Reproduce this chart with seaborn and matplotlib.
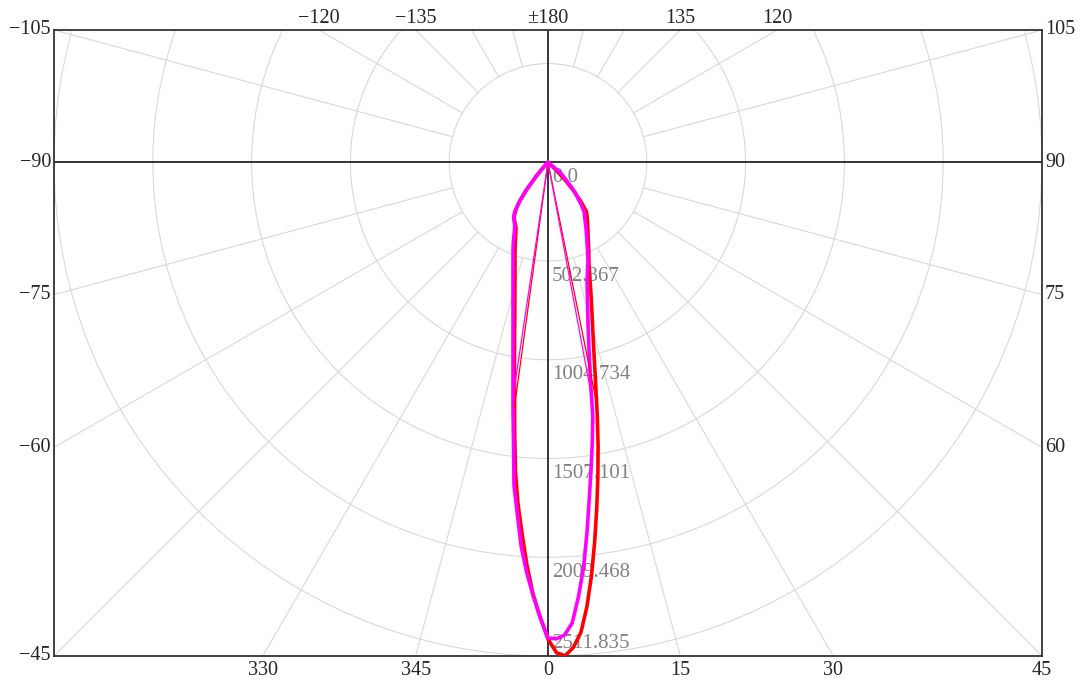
import numpy as np
import pandas as pd
import matplotlib.pyplot as plt
import seaborn as sns

# gamma angle (deg, 0 = straight down, + to the right) and intensity (cd)
gamma = [-52, -50, -48, -46, -44, -42, -40, -38, -36, -34, -32, -30, -28, -26,
         -24, -22, -20, -18, -16, -14,
         -12, -11, -10, -9, -8, -7, -6, -5, -4, -3, -2, -1, 0, 1, 2, 3, 4, 5, 6,
         7, 8, 9, 10, 11, 12,
         14, 16, 18, 20, 22, 24, 26, 28, 30, 32, 34, 36, 38, 40, 42, 44, 46, 48,
         50, 52]
red_cd = [0, 0, 0, 0, 0, 40, 100, 181, 248, 292, 325, 341, 355, 371,
          404, 444, 491, 543, 609, 696,
          812, 890, 981, 1089, 1222, 1389, 1584, 1747, 1893, 2051, 2196, 2313, 2426,
          2496, 2511.835, 2471, 2398, 2270, 2115, 1947, 1780, 1621, 1467, 1313, 1170,
          956, 814, 708, 622, 556, 510, 470, 435, 407, 381, 359, 338, 316, 258,
          191, 127, 60, 0, 0, 0]
magenta_cd = [0, 0, 0, 0, 0, 40, 95, 170, 249, 302, 330, 344, 361, 389,
              431, 475, 520, 576, 646, 736,
              856, 933, 1025, 1138, 1279, 1439, 1654, 1795, 1958, 2087, 2202, 2315, 2420,
              2425, 2407, 2348, 2217, 2071, 1896, 1723, 1574, 1440, 1312, 1130, 1010,
              840, 728, 643, 587, 543, 494, 452, 417, 386, 357, 333, 313, 275, 235,
              205, 163, 124, 100, 80, 0]

planes = ["C0-C180", "C90-C270"]
colors = {"C0-C180": "#ff0000", "C90-C270": "#ff00ff"}

# angle labels around the frame
angle_ticks = [-30, -15, 0, 15, 30, 45, 60, 75, 90, 105, 120, 135, 180, -135, -120,
               -105, -90, -75, -60, -45]
angle_texts = ["330", "345", "0", "15", "30", "45", "60", "75", "90", "105", "120",
               "135", "±180", "−135", "−120", "−105", "−90", "−75", "−60", "−45"]
angle_sides = ["bottom"] * 6 + ["right"] * 4 + ["top"] * 5 + ["left"] * 5

sns.set_style("white")
plt.rcParams["font.family"] = ["Liberation Serif", "DejaVu Serif"]

rows = []
for name, vals in zip(planes, [red_cd, magenta_cd]):
    for g, v in zip(gamma, vals):
        t = np.radians(g)
        rows.append({"plane": name, "x": v * np.sin(t), "y": -v * np.cos(t)})
df = pd.DataFrame(rows)

rmax = max(max(red_cd), max(magenta_cd))
step = rmax / 5
R = rmax
Rt = R * np.tan(np.radians(15))
upx = R / 494  # data units per pixel

fig = plt.figure(figsize=(10.83, 6.84), dpi=100)
ax = fig.add_axes([54 / 1083, 28 / 684, 988 / 1083, 626 / 684])
ax.set_xlim(-R, R)
ax.set_ylim(-R, Rt)

# polar grid
grid_c = "#d9d9d9"
for k in range(1, 6):
    ax.add_patch(plt.Circle((0, 0), k * step, fill=False, ec=grid_c, lw=0.8, zorder=1))
for a in range(-165, 181, 15):
    if a % 90 == 0:
        continue
    t = np.radians(a)
    ax.plot([step * np.sin(t), 3 * R * np.sin(t)], [-step * np.cos(t), -3 * R * np.cos(t)],
            color=grid_c, lw=0.8, zorder=1)
ax.axhline(0, color="black", lw=1.1, zorder=2)
ax.axvline(0, color="black", lw=1.1, zorder=2)

# intensity labels
for k in range(6):
    txt = "0.0" if k == 0 else f"{k * step:.3f}"
    yy = -min(k * step + 15 * upx, R - 13 * upx)
    ax.text(4 * upx, yy, txt, color="#808080", fontsize=15, ha="left", va="center", zorder=2.5)

# curves
sns.lineplot(data=df, x="x", y="y", hue="plane", hue_order=planes, palette=colors,
             sort=False, estimator=None, lw=2.6, legend=False, ax=ax, zorder=3)

# beam angle lines (half of the peak intensity)
for name, vals in zip(planes, [red_cd, magenta_cd]):
    v = np.array(vals, dtype=float)
    g = np.array(gamma, dtype=float)
    ip = int(np.argmax(v))
    half = v[ip] / 2
    j = ip
    while v[j] >= half:
        j -= 1
    gl = g[j] + (half - v[j]) / (v[j + 1] - v[j]) * (g[j + 1] - g[j])
    j = ip
    while v[j] >= half:
        j += 1
    gr = g[j - 1] + (half - v[j - 1]) / (v[j] - v[j - 1]) * (g[j] - g[j - 1])
    for ga in [gl, gr]:
        t = np.radians(ga)
        ax.plot([0, half * np.sin(t)], [0, -half * np.cos(t)], color=colors[name], lw=0.9, zorder=3)

# angle labels on the frame
for a, txt, side in zip(angle_ticks, angle_texts, angle_sides):
    t = np.radians(a)
    s, c = np.sin(t), -np.cos(t)
    if side == "bottom":
        ax.text(-R * s / c, -R - 15 * upx, txt, ha="center", va="center", fontsize=14.5, clip_on=False)
    elif side == "top":
        ax.text(Rt * s / c, Rt + 12 * upx, txt, ha="center", va="center", fontsize=14.5, clip_on=False)
    elif side == "right":
        ax.text(R + 3 * upx, R * c / s, txt, ha="left", va="center", fontsize=14.5, clip_on=False)
    else:
        ax.text(-R - 3 * upx, -R * c / s, txt, ha="right", va="center", fontsize=14.5, clip_on=False)

ax.set_xticks([])
ax.set_yticks([])
ax.set_xlabel("")
ax.set_ylabel("")
for sp in ax.spines.values():
    sp.set_color("#333333")
    sp.set_linewidth(1.3)

fig.savefig("out.png", dpi=100)
